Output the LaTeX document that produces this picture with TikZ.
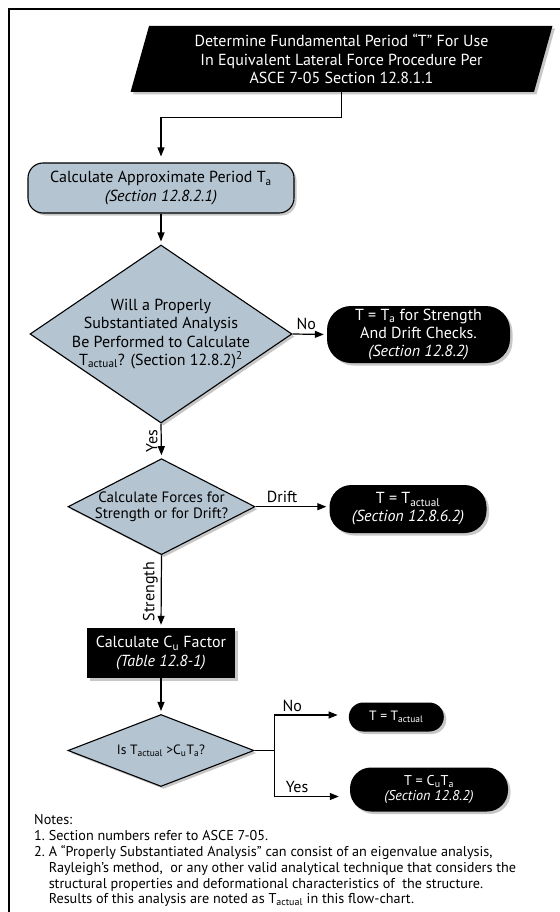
\documentclass[tikz,border=0pt]{standalone}
\usepackage{fontspec}
\setmainfont{PT Sans}
\usetikzlibrary{arrows.meta,shapes.geometric,shadows,calc}
\definecolor{boxblue}{RGB}{180,196,209}
\begin{document}
\begin{tikzpicture}[x=1pt,y=-1pt,
  shad/.style={drop shadow={shadow xshift=2.5pt,shadow yshift=-2.5pt,fill=black!22,opacity=1}},
  mainfont/.style={font=\fontsize{16}{18.3}\selectfont},
  midfont/.style={font=\fontsize{15}{16.8}\selectfont},
  smallfont/.style={font=\fontsize{13.5}{15}\selectfont},
  para/.style={trapezium, trapezium left angle=74, trapezium right angle=106,
     trapezium stretches=true, fill=black, text=white, align=center, inner sep=0pt,
     shad, mainfont},
  bluebox/.style={draw, line width=1.1pt, fill=boxblue, rounded corners=15pt,
     align=center, inner sep=0pt, shad, mainfont},
  dia/.style={diamond, draw, line width=1.1pt, fill=boxblue, inner sep=0pt, shad},
  blackbox/.style={fill=black, text=white, align=center, inner sep=0pt, shad, mainfont},
  arr/.style={-{Triangle[length=9pt,width=7pt]}, line width=1.2pt, shorten >=3pt},
  lab/.style={mainfont, inner sep=1pt}
]
\useasboundingbox (0,0) rectangle (559,912);
\draw[line width=2pt] (8.5,940) -- (8.5,9) -- (580,9);

\node[para, minimum width=423pt, minimum height=66pt] (start) at (341.5,59)
  {Determine Fundamental Period “T” For Use\\In Equivalent Lateral Force Procedure Per\\ASCE 7-05 Section 12.8.1.1};

\node[bluebox, minimum width=266pt, minimum height=50pt] (approx) at (161,188)
  {Calculate Approximate Period T\textsubscript{a}\\\textit{(Section 12.8.2.1)}};

\node[dia, minimum width=262pt, minimum height=178pt,
  label={[mainfont, align=center]center:Will a Properly\\Substantiated Analysis\\Be Performed to Calculate\\T\textsubscript{actual}? (Section 12.8.2)\textsuperscript{2}}] (q1) at (161,334) {};

\node[blackbox, rounded corners=24pt, minimum width=183pt, minimum height=57pt] (r1) at (418.5,334.5)
  {T = T\textsubscript{a} for Strength\\And Drift Checks.\\\textit{(Section 12.8.2)}};

\node[dia, minimum width=187pt, minimum height=96pt,
  label={[midfont, align=center]center:Calculate Forces for\\Strength or for Drift?}] (q2) at (161.5,506.7) {};

\node[blackbox, rounded corners=22pt, minimum width=157pt, minimum height=48pt] (r2) at (408,509)
  {T = T\textsubscript{actual}\\\textit{(Section 12.8.6.2)}};

\node[blackbox, minimum width=148pt, minimum height=50pt] (cu) at (161,653)
  {Calculate C\textsubscript{u} Factor\\\textit{(Table 12.8-1)}};

\node[dia, minimum width=186pt, minimum height=72pt,
  label={[smallfont]center:Is T\textsubscript{actual} >C\textsubscript{u}T\textsubscript{a}?}] (q3) at (161,750.5) {};

\node[blackbox, smallfont, rounded corners=14.5pt, minimum width=95pt, minimum height=29pt] (r3) at (396.3,717)
  {T = T\textsubscript{actual}};

\node[blackbox, font=\fontsize{14.2}{15.5}\selectfont, rounded corners=21pt, minimum width=158pt, minimum height=44pt] (r4) at (429,789.5)
  {T = C\textsubscript{u}T\textsubscript{a}\\\textit{(Section 12.8.2)}};

\coordinate (br) at (274.5,750.5);

\draw[arr, shorten >=6pt] (start.south) -- ++(0,25) -| (approx.north);
\draw[arr] (approx.south) -- (q1.north);
\draw[arr] (q1.east) -- (r1.west) node[lab, pos=0.4, above=3pt] {No};
\draw[arr] (q1.south) -- (q2.north) node[lab, midway, rotate=90, anchor=south, inner sep=3pt] {Yes};
\draw[arr] (q2.east) -- (q2.east -| r2.west) node[lab, pos=0.36, above=2pt] {Drift};
\draw[arr] (q2.south) -- (cu.north) node[lab, midway, rotate=90, anchor=south, inner sep=3pt] {Strength};
\draw[arr] (cu.south) -- (q3.north);
\draw[line width=1.2pt] (q3.east) -- (br);
\draw[arr, shorten >=11pt] (br) |- ($(r3.west)+(0,-2)$) node[lab, pos=0.62, above=2pt] {No};
\draw[arr, shorten >=11pt] (br) |- ($(r4.west)+(0,7)$) node[lab, pos=0.65, above=2pt] {Yes};

\node[anchor=north west, align=left, inner sep=0pt, font=\fontsize{14.2}{15.8}\selectfont] (notes) at (34,814.5)
  {Notes:\\
   1.\ Section numbers refer to ASCE 7-05.\\
   2.\ A “Properly Substantiated Analysis” can consist of an eigenvalue analysis,\\
   \phantom{2.\ }Rayleigh’s method,~ or any other valid analytical technique that considers the\\
   \phantom{2.\ }structural properties and deformational characteristics of~ the structure.\\
   \phantom{2.\ }Results of this analysis are noted as T\textsubscript{actual} in this flow-chart.};
\end{tikzpicture}
\end{document}
